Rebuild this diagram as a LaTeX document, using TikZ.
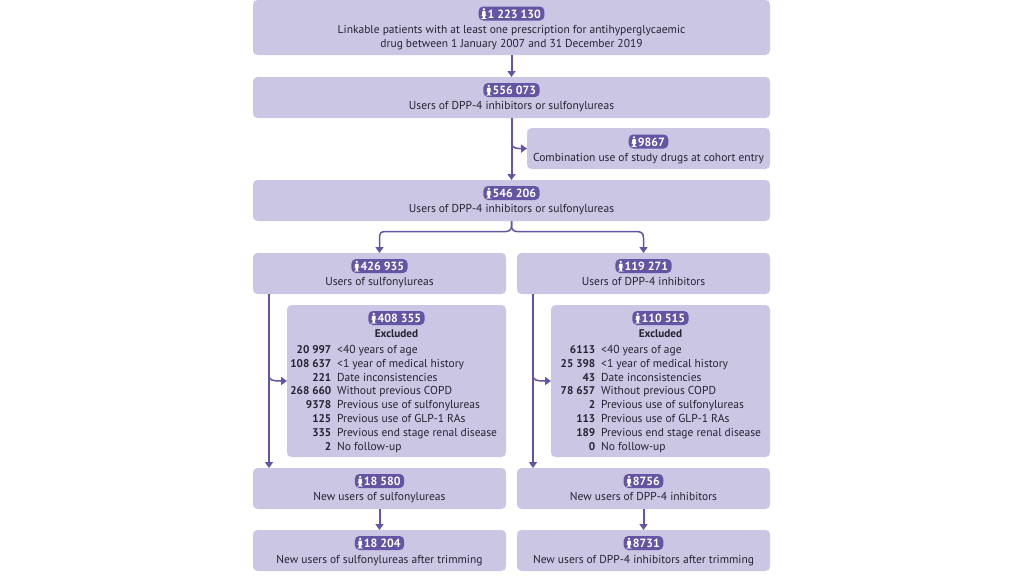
\documentclass[tikz,border=0pt]{standalone}
\usepackage{fontspec}
\setmainfont{PT Sans}
\usetikzlibrary{arrows.meta}
\definecolor{boxc}{RGB}{204,198,229}
\definecolor{linec}{RGB}{100,84,164}
\definecolor{txtc}{RGB}{38,34,48}
\newcommand{\personicon}{\tikz[baseline=0pt,x=1pt,y=1pt]{\fill[white] (0,8.6) circle (1.3);\fill[white,rounded corners=0.8pt] (-1.8,7) rectangle (1.8,2.6);\fill[white] (-1.2,3) rectangle (1.2,-0.9);}}
\tikzset{
 x=1pt,y=-1pt,
 flowbox/.style={fill=boxc,rounded corners=4.5pt,inner sep=0,outer sep=0,anchor=north west},
 badge/.style={fill=linec,text=white,rounded corners=4.5pt,inner xsep=3.5pt,inner ysep=0pt,minimum height=14pt,font=\fontsize{11.9}{13}\selectfont\bfseries,anchor=center},
 lab/.style={text=txtc,inner sep=0,font=\fontsize{11.5}{13}\selectfont,anchor=base},
 numl/.style={text=txtc,inner sep=0,font=\fontsize{11.2}{13}\selectfont\bfseries,anchor=base east},
 txtl/.style={text=txtc,inner sep=0,font=\fontsize{11.5}{13}\selectfont,anchor=base west},
 conn/.style={draw=linec,line width=2pt,-{Triangle[length=6pt,width=8pt]}},
 branch/.style={draw=linec,line width=1.5pt,-{Triangle[length=6pt,width=8pt]}},
}
\newcommand{\mkbox}[5]{\node[flowbox,minimum width=#4 pt,minimum height=#5 pt] (#1) at (#2,#3) {};}
\begin{document}
\begin{tikzpicture}
\useasboundingbox (0,0) rectangle (1024,576);
\fill[white] (0,0) rectangle (1024,576);
\mkbox{a}{253}{0}{517}{55}
\mkbox{b}{253}{77}{517}{41}
\mkbox{c}{527}{128}{243}{41}
\mkbox{d}{253}{180}{517}{41}
\mkbox{e}{253}{253}{253}{41}
\mkbox{f}{517}{253}{253}{41}
\mkbox{g}{287}{305}{219}{152}
\mkbox{h}{551}{305}{219}{152}
\mkbox{i}{253}{468}{253}{41}
\mkbox{j}{517}{468}{253}{41}
\mkbox{k}{253}{530}{253}{41}
\mkbox{l}{517}{530}{253}{41}
% badges and labels
\node[badge] (ba) at (511.5,13.5) {\personicon\,1 223 130};
\node[lab] (la1) at (511.5,33) {Linkable patients with at least one prescription for antihyperglycaemic};
\node[lab] (la2) at (511.5,47) {drug between 1 January 2007 and 31 December 2019};
\node[badge] (bb) at (511.5,90) {\personicon\,556 073};
\node[lab] (lb) at (511.5,109.5) {Users of DPP-4 inhibitors or sulfonylureas};
\node[badge] (bc) at (648.5,141.5) {\personicon\,9867};
\node[lab] (lc) at (648.5,161) {Combination use of study drugs at cohort entry};
\node[badge] (bd) at (511.5,193) {\personicon\,546 206};
\node[lab] (ld) at (511.5,212) {Users of DPP-4 inhibitors or sulfonylureas};
\node[badge] (be) at (379.5,266) {\personicon\,426 935};
\node[lab] (le) at (379.5,285.5) {Users of sulfonylureas};
\node[badge] (bf) at (643.5,266) {\personicon\,119 271};
\node[lab] (lf) at (643.5,285.5) {Users of DPP-4 inhibitors};
\node[badge] (bg) at (396.5,318) {\personicon\,408 355};
\node[numl,anchor=base] (xg) at (396.5,337) {Excluded};
\node[badge] (bh) at (660.5,318) {\personicon\,110 515};
\node[numl,anchor=base] (xh) at (660.5,337) {Excluded};
\foreach \y/\n/\t/\m/\q [count=\k] in {
 353/20 997/{<40 years of age}/6113/0,
 367/108 637/{<1 year of medical history}/25 398/0,
 381/221/{Date inconsistencies}/43/0,
 394.7/268 660/{Without previous COPD}/78 657/0,
 408.7/9378/{Previous use of sulfonylureas}/2/0,
 422.3/125/{Previous use of GLP-1 RAs}/113/0,
 436.3/335/{Previous end stage renal disease}/189/0,
 450.2/2/{No follow-up}/0/0}{
 \node[numl] (gn\k) at (331.5,\y) {\n};
 \node[txtl] (gt\k) at (337,\y) {\t};
 \node[numl] (hn\k) at (595.5,\y) {\m};
 \node[txtl] (ht\k) at (601,\y) {\t};
}
\node[badge] (bi) at (379.5,481) {\personicon\,18 580};
\node[lab] (li) at (379.5,500) {New users of sulfonylureas};
\node[badge] (bj) at (643.5,481) {\personicon\,8756};
\node[lab] (lj) at (643.5,500) {New users of DPP-4 inhibitors};
\node[badge] (bk) at (379.5,543) {\personicon\,18 204};
\node[lab] (lk) at (379.5,563) {New users of sulfonylureas after trimming};
\node[badge] (bl) at (643.5,543) {\personicon\,8731};
\node[lab] (ll) at (643.5,563) {New users of DPP-4 inhibitors after trimming};
% connectors
\draw[conn] (a.south) -- (b.north);
\draw[conn] (b.south) -- (d.north);
\coordinate (cs) at (511.5,143);
\draw[branch] (cs) .. controls (512,147.5) and (515,148.7) .. (c.west);
\coordinate (ds) at (511.5,226);
\draw[branch] (d.south) -- (ds) .. controls (511.5,230) and (509,231.6) .. (505,231.6) -- (385,231.6) .. controls (381,231.6) and (379.5,233) .. (379.5,238) -- (e.north);
\draw[branch] (d.south) -- (ds) .. controls (511.5,230) and (514,231.6) .. (518,231.6) -- (637,231.6) .. controls (641,231.6) and (643.5,233) .. (643.5,238) -- (f.north);
\coordinate (es) at (269,294);
\coordinate (is) at (269,468);
\draw[conn] (es) -- (is);
\coordinate (eb) at (269,376);
\draw[branch] (eb) .. controls (269.5,380) and (272,381) .. (g.west);
\coordinate (fs) at (533,294);
\coordinate (js) at (533,468);
\draw[conn] (fs) -- (js);
\coordinate (fb) at (533,376);
\draw[branch] (fb) .. controls (533.5,380) and (536,381) .. (h.west);
\draw[conn] (i.south) -- (k.north);
\draw[conn] (j.south) -- (l.north);
\end{tikzpicture}
\end{document}
